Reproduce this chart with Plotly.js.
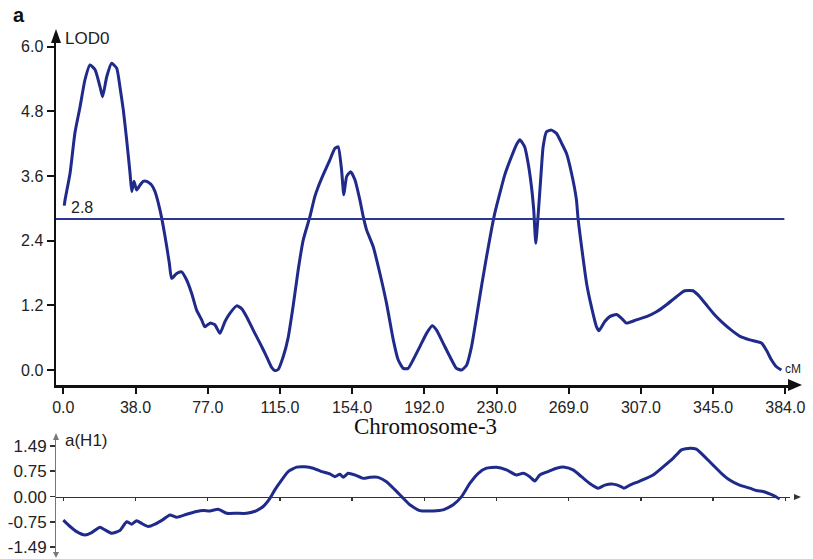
<!DOCTYPE html>
<html>
<head>
<meta charset="utf-8">
<script src="https://cdn.plot.ly/plotly-3.0.1.min.js"></script>
<style>html,body{margin:0;padding:0;background:#fff;}#chart{width:813px;height:559px;}</style>
</head>
<body>
<div id="chart"></div>
<script>
// ---- data ----
const tickVals = [0, 38.4, 76.8, 115.2, 153.6, 192, 230.4, 268.8, 307.2, 345.6, 384];
const tickText = ['0.0','38.0','77.0','115.0','154.0','192.0','230.0','269.0','307.0','345.0','384.0'];
const lodTickVals = [0, 1.2, 2.4, 3.6, 4.8, 6.0];
const lodTickText = ['0.0','1.2','2.4','3.6','4.8','6.0'];
const aTickVals = [1.49, 0.75, 0, -0.75, -1.49];
const aTickText = ['1.49','0.75','0.00','-0.75','-1.49'];
const threshold = [2.8];

const lodX = [0.5,0.9,3.6,6.2,8.9,11.5,14.2,16.9,19.5,20.9,23.1,25.7,28.4,30.1,31.9,33.7,35.5,36.4,37.6,39.0,40.8,42.5,44.3,47.0,48.8,49.6,51.4,53.2,55.0,56.4,57.6,60.3,62.9,65.6,68.3,70.9,73.6,75.3,78.0,80.6,83.3,86.0,88.6,92.2,94.8,97.5,101.0,104.6,108.1,110.8,112.5,114.3,117.0,119.6,122.3,124.9,127.6,131.2,133.8,135.6,138.2,141.8,144.4,146.2,148.0,149.2,150.7,152.8,155.1,157.7,159.5,161.3,164.8,168.4,171.9,175.5,178.1,180.8,183.4,186.1,189.6,193.2,196.2,198.5,202.0,205.6,209.1,211.8,214.5,217.1,219.8,222.4,225.1,227.7,229.5,232.2,234.8,238.4,241.0,242.8,245.4,247.2,249.0,250.2,251.3,252.5,254.0,255.2,257.0,259.6,262.3,265.0,267.6,270.3,272.9,273.8,275.6,278.3,280.9,283.6,284.9,288.0,290.6,294.2,296.9,299.5,304.8,310.2,315.5,320.8,326.1,330.5,334.9,338.5,342.0,346.5,350.9,355.3,359.7,365.1,371.3,373.9,376.6,379.3,381.9];
const lodY = [3.05,3.15,3.65,4.4,4.88,5.38,5.66,5.57,5.26,5.07,5.44,5.69,5.6,5.26,4.83,4.27,3.65,3.31,3.5,3.34,3.43,3.5,3.5,3.43,3.31,3.22,2.97,2.66,2.29,1.98,1.70,1.79,1.82,1.67,1.42,1.11,0.93,0.80,0.87,0.84,0.68,0.90,1.05,1.19,1.14,0.99,0.74,0.50,0.25,0.05,-0.01,0.01,0.25,0.6,1.2,1.85,2.41,2.85,3.22,3.40,3.62,3.90,4.11,4.14,3.71,3.25,3.59,3.68,3.53,3.16,2.85,2.60,2.29,1.79,1.24,0.56,0.19,0.03,0.03,0.19,0.43,0.68,0.82,0.74,0.50,0.25,0.03,0.0,0.09,0.43,0.99,1.55,2.10,2.60,2.91,3.28,3.62,3.96,4.18,4.27,4.14,3.84,3.40,2.97,2.35,2.85,3.59,4.14,4.42,4.45,4.39,4.21,4.02,3.65,3.16,2.8,2.3,1.61,1.17,0.80,0.73,0.90,0.99,1.03,0.96,0.87,0.93,0.99,1.08,1.21,1.36,1.47,1.47,1.36,1.21,1.02,0.87,0.74,0.63,0.56,0.50,0.37,0.19,0.06,0.0];

const aX = [0,3.6,7.1,11.5,15.1,19.5,22.2,25.7,30.1,33.7,36.4,39.0,41.7,45.2,48.8,53.2,56.7,60.3,65.6,70.9,74.4,78.0,82.4,86.9,92.2,97.5,102.8,106.3,109.9,112.5,116.1,119.6,124.1,128.5,132.9,137.4,141.8,144.4,147.1,148.9,151.5,155.1,159.5,163.1,167.5,171.9,176.4,180.0,184.3,189.6,196.7,202.0,207.4,211.8,216.2,220.7,225.1,230.4,235.7,241.0,244.5,248.1,250.8,253.4,257.8,262.3,266.7,271.1,275.6,280.0,284.5,288.0,292.4,296.9,298.1,301.3,306.6,313.7,319.0,324.3,328.8,333.2,336.7,341.1,345.6,350.0,354.4,359.7,365.1,368.6,372.1,375.7,378.3,381.0];
const aY = [-0.69,-0.88,-1.03,-1.13,-1.06,-0.90,-0.98,-1.08,-1.00,-0.74,-0.81,-0.71,-0.79,-0.88,-0.81,-0.67,-0.54,-0.61,-0.52,-0.44,-0.41,-0.42,-0.37,-0.49,-0.49,-0.49,-0.41,-0.29,-0.05,0.20,0.49,0.74,0.87,0.88,0.84,0.74,0.67,0.59,0.66,0.57,0.69,0.64,0.54,0.57,0.57,0.44,0.20,0.0,-0.24,-0.41,-0.42,-0.39,-0.24,0.0,0.39,0.69,0.84,0.87,0.79,0.64,0.69,0.59,0.46,0.64,0.74,0.84,0.87,0.79,0.59,0.39,0.25,0.34,0.37,0.29,0.25,0.34,0.46,0.64,0.88,1.13,1.38,1.43,1.40,1.18,0.93,0.69,0.49,0.34,0.25,0.18,0.15,0.08,0.02,-0.07];

// ---- layout helpers (pixel -> paper) ----
const W = 813, H = 559;
const px = v => v / W;
const py = v => 1 - v / H;
const xRange = [-3.88, 386.5];
const xDomain = [px(56), px(790)];
const curveColor = '#1f2a8a';
const font = 'Liberation Sans, Arial, sans-serif';

const traces = [
  {x: lodX, y: lodY, xaxis: 'x', yaxis: 'y', mode: 'lines', line: {color: curveColor, width: 3, shape: 'spline', smoothing: 0.5}, hoverinfo: 'skip'},
  {x: [xRange[0], 383.5], y: [threshold[0], threshold[0]], xaxis: 'x', yaxis: 'y', mode: 'lines', line: {color: '#2a3595', width: 2}, hoverinfo: 'skip'},
  {x: aX, y: aY, xaxis: 'x2', yaxis: 'y2', mode: 'lines', line: {color: curveColor, width: 3, shape: 'spline', smoothing: 0.5}, hoverinfo: 'skip'}
];

const baseX = {domain: xDomain, range: xRange, showgrid: false, zeroline: false, tickvals: tickVals, fixedrange: true};

const layout = {
  width: W, height: H,
  margin: {l: 0, r: 0, t: 0, b: 0},
  paper_bgcolor: '#fff', plot_bgcolor: 'rgba(0,0,0,0)',
  showlegend: false,
  font: {family: font, color: '#222'},
  xaxis: Object.assign({}, baseX, {anchor: 'y', showline: true, linecolor: '#111', linewidth: 2.5,
    ticks: 'outside', ticklen: 6, tickwidth: 2, tickcolor: '#111', ticktext: tickText,
    tickfont: {size: 16, family: font, color: '#222'}}),
  xaxis3: Object.assign({}, baseX, {anchor: 'y', overlaying: 'x', showline: false,
    ticks: 'inside', ticklen: 6, tickwidth: 2, tickcolor: '#111', showticklabels: false}),
  yaxis: {domain: [py(385), py(40)], range: [-0.278, 6.122], anchor: 'x', showline: true, linecolor: '#111', linewidth: 2.5,
    showgrid: false, zeroline: false, ticks: 'outside', ticklen: 7, tickwidth: 2, tickcolor: '#111',
    tickvals: lodTickVals, ticktext: lodTickText, tickfont: {size: 16, family: font, color: '#222'}, fixedrange: true},
  yaxis3: {domain: [py(385), py(40)], range: [-0.278, 6.122], anchor: 'x', overlaying: 'y', showline: false,
    showgrid: false, zeroline: false, ticks: 'inside', ticklen: 6, tickwidth: 2, tickcolor: '#111',
    tickvals: lodTickVals, showticklabels: false, fixedrange: true},
  xaxis2: Object.assign({}, baseX, {anchor: 'free', position: py(497), showline: true, linecolor: '#333', linewidth: 1,
    ticks: 'outside', ticklen: 3, tickwidth: 1.5, tickcolor: '#333', showticklabels: false}),
  xaxis4: Object.assign({}, baseX, {anchor: 'free', position: py(497), overlaying: 'x2', showline: false,
    ticks: 'inside', ticklen: 3, tickwidth: 1.5, tickcolor: '#333', showticklabels: false}),
  yaxis2: {domain: [py(555), py(438)], range: [-1.72, 1.73], anchor: 'x2', showline: true, linecolor: '#777', linewidth: 1,
    showgrid: false, zeroline: false, ticks: 'outside', ticklen: 5, tickwidth: 1.5, tickcolor: '#333',
    tickvals: aTickVals, ticktext: aTickText, tickfont: {size: 17, family: font, color: '#222'}, fixedrange: true},
  annotations: [
    {text: '<b>a</b>', xref: 'paper', yref: 'paper', x: px(11), y: py(2), xanchor: 'left', yanchor: 'top', showarrow: false, font: {size: 20, family: font, color: '#111'}},
    {text: 'LOD0', xref: 'paper', yref: 'paper', x: px(63), y: py(38), xanchor: 'left', yanchor: 'middle', showarrow: false, font: {size: 17, family: font, color: '#222'}},
    {text: '2.8', x: 3, y: threshold[0], xref: 'x', yref: 'y', xanchor: 'left', yanchor: 'bottom', yshift: 1, showarrow: false, font: {size: 16, family: font, color: '#222'}},
    {text: 'cM', xref: 'paper', yref: 'paper', x: px(783), y: py(369), xanchor: 'left', yanchor: 'middle', showarrow: false, font: {size: 12, family: font, color: '#222'}},
    {text: 'Chromosome-3', xref: 'paper', yref: 'paper', x: px(425), y: py(426), xanchor: 'center', yanchor: 'middle', showarrow: false, font: {size: 23, family: 'Liberation Serif, Times New Roman, serif', color: '#111'}},
    {text: 'a(H1)', xref: 'paper', yref: 'paper', x: px(63), y: py(440), xanchor: 'left', yanchor: 'middle', showarrow: false, font: {size: 17, family: font, color: '#222'}}
  ],
  shapes: [
    {type: 'path', xref: 'paper', yref: 'paper', path: `M ${px(56)} ${py(29)} L ${px(51)} ${py(43)} L ${px(61)} ${py(43)} Z`, fillcolor: '#111', line: {width: 0}},
    {type: 'path', xref: 'paper', yref: 'paper', path: `M ${px(802)} ${py(385)} L ${px(788)} ${py(379)} L ${px(788)} ${py(391)} Z`, fillcolor: '#111', line: {width: 0}},
    {type: 'path', xref: 'paper', yref: 'paper', path: `M ${px(56)} ${py(433)} L ${px(53)} ${py(440)} L ${px(59)} ${py(440)} Z`, fillcolor: '#777', line: {width: 0}},
    {type: 'path', xref: 'paper', yref: 'paper', path: `M ${px(56)} ${py(558)} L ${px(53)} ${py(552)} L ${px(59)} ${py(552)} Z`, fillcolor: '#777', line: {width: 0}},
    {type: 'path', xref: 'paper', yref: 'paper', path: `M ${px(801)} ${py(497)} L ${px(794)} ${py(494)} L ${px(794)} ${py(500)} Z`, fillcolor: '#333', line: {width: 0}}
  ]
};

Plotly.newPlot('chart', traces, layout, {displayModeBar: false, staticPlot: true});
</script>
</body>
</html>
